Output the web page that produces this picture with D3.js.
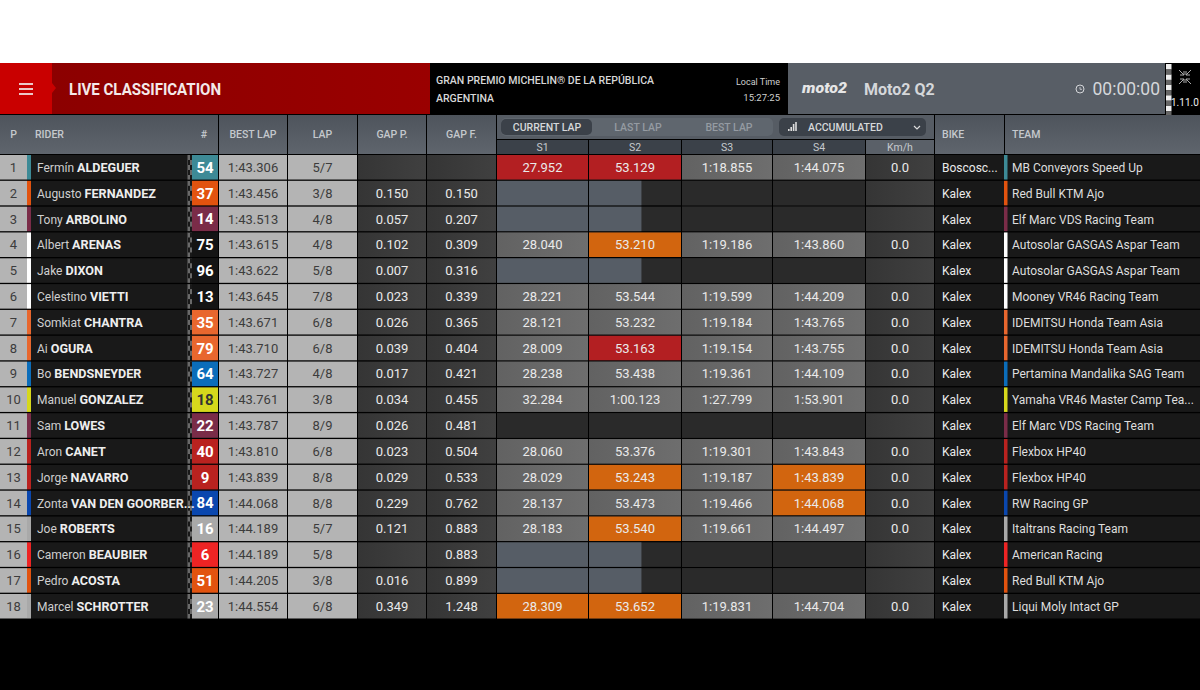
<!DOCTYPE html>
<html>
<head>
<meta charset="utf-8">
<script src="https://cdn.jsdelivr.net/npm/d3@7"></script>
<style>
  html, body { margin: 0; background: #fff; overflow: hidden; }
  svg { display: block; }
  text { font-family: "Roboto", "Noto Sans", sans-serif; }
</style>
</head>
<body>
<div id="chart"></div>
<script>
// table values, one list per column
const positions = d3.range(1, 19);
const firstNames = ['Fermín','Augusto','Tony','Albert','Jake','Celestino','Somkiat','Ai','Bo','Manuel','Sam','Aron','Jorge','Zonta','Joe','Cameron','Pedro','Marcel'];
const lastNames = ['ALDEGUER','FERNANDEZ','ARBOLINO','ARENAS','DIXON','VIETTI','CHANTRA','OGURA','BENDSNEYDER','GONZALEZ','LOWES','CANET','NAVARRO','VAN DEN GOORBER...','ROBERTS','BEAUBIER','ACOSTA','SCHROTTER'];
const numbers = [54,37,14,75,96,13,35,79,64,18,22,40,9,84,16,6,51,23];
const riderColors = ['#3d8a96','#e2530f','#7a2c48','#ffffff','#ffffff','#ffffff','#e8672e','#e8672e','#0b6dba','#d6d81c','#7a2c48','#b9221f','#b9221f','#0a47ae','#a9a9a9','#ee2424','#e2530f','#a9a9a9'];
const numberFills = ['#3d8a96','#e2530f','#7a2c48','#141414','#141414','#141414','#e8672e','#e8672e','#0b6dba','#d6d81c','#7a2c48','#b9221f','#b9221f','#0a47ae','#a9a9a9','#ee2424','#e2530f','#a9a9a9'];
const bestLaps = ['1:43.306','1:43.456','1:43.513','1:43.615','1:43.622','1:43.645','1:43.671','1:43.710','1:43.727','1:43.761','1:43.787','1:43.810','1:43.839','1:44.068','1:44.189','1:44.189','1:44.205','1:44.554'];
const laps = ['5/7','3/8','4/8','4/8','5/8','7/8','6/8','6/8','4/8','3/8','8/9','6/8','8/8','8/8','5/7','5/8','3/8','6/8'];
const gapsP = ['','0.150','0.057','0.102','0.007','0.023','0.026','0.039','0.017','0.034','0.026','0.023','0.029','0.229','0.121','','0.016','0.349'];
const gapsF = ['','0.150','0.207','0.309','0.316','0.339','0.365','0.404','0.421','0.455','0.481','0.504','0.533','0.762','0.883','0.883','0.899','1.248'];
const s1 = ['27.952','','','28.040','','28.221','28.121','28.009','28.238','32.284','','28.060','28.029','28.137','28.183','','','28.309'];
const s2 = ['53.129','','','53.210','','53.544','53.232','53.163','53.438','1:00.123','','53.376','53.243','53.473','53.540','','','53.652'];
const s3 = ['1:18.855','','','1:19.186','','1:19.599','1:19.184','1:19.154','1:19.361','1:27.799','','1:19.301','1:19.187','1:19.466','1:19.661','','','1:19.831'];
const s4 = ['1:44.075','','','1:43.860','','1:44.209','1:43.765','1:43.755','1:44.109','1:53.901','','1:43.843','1:43.839','1:44.068','1:44.497','','','1:44.704'];
const speeds = ['0.0','','','0.0','','0.0','0.0','0.0','0.0','0.0','','0.0','0.0','0.0','0.0','','','0.0'];
const bikes = ['Boscosc...','Kalex','Kalex','Kalex','Kalex','Kalex','Kalex','Kalex','Kalex','Kalex','Kalex','Kalex','Kalex','Kalex','Kalex','Kalex','Kalex','Kalex'];
const teams = ['MB Conveyors Speed Up','Red Bull KTM Ajo','Elf Marc VDS Racing Team','Autosolar GASGAS Aspar Team','Autosolar GASGAS Aspar Team','Mooney VR46 Racing Team','IDEMITSU Honda Team Asia','IDEMITSU Honda Team Asia','Pertamina Mandalika SAG Team','Yamaha VR46 Master Camp Tea...','Elf Marc VDS Racing Team','Flexbox HP40','Flexbox HP40','RW Racing GP','Italtrans Racing Team','American Racing','Red Bull KTM Ajo','Liqui Moly Intact GP'];

// sector status: n = normal, r = fastest, o = personal best, a = in progress, e = empty
const s1Status = ['r','a','a','n','a','n','n','n','n','n','e','n','n','n','n','a','a','o'];
const s2Status = ['r','a','a','o','a','n','n','r','n','n','e','n','o','n','o','a','a','o'];
const s3Status = ['n','e','e','n','e','n','n','n','n','n','e','n','n','n','n','e','e','n'];
const s4Status = ['n','e','e','n','e','n','n','n','n','n','e','n','o','o','n','e','e','n'];
const s1Progress = [1,1,1,1,1,1,1,1,1,1,1,1,1,1,1,1,1,1];
const s2Progress = [1,0.57,0.57,1,0.57,1,1,1,1,1,1,1,1,1,1,0.57,0.57,1];

const headerLabels = ['P','BEST LAP','LAP','GAP P.','GAP F.'];
const sectorLabels = ['S1','S2','S3','S4','Km/h'];
const tabLabels = ['CURRENT LAP','LAST LAP','BEST LAP'];

const width = 1200, height = 690;
const statusFill = { n: 'url(#cellGray)', r: '#b31f22', o: '#d2650f', a: '#565d66', e: '#2a2a2a' };

// column edges, left and right of each block
const colLeft = d3.scaleOrdinal()
  .domain(['P','RIDER','NUM','BEST LAP','LAP','GAP P.','GAP F.','S1','S2','S3','S4','Km/h','BIKE','TEAM'])
  .range([0,27,192,219,288,358,427,497,589,682,773,866,935,1005]);
const colRight = d3.scaleOrdinal()
  .domain(colLeft.domain())
  .range([27,192,218,287,357,426,496,588,681,772,865,934,1004,1200]);
const colMid = k => (colLeft(k) + colRight(k)) / 2;

const rowY = d3.scaleBand()
  .domain(positions)
  .range([155, 618.5])
  .paddingInner(0.05)
  .paddingOuter(0);

const svg = d3.select('#chart').append('svg')
  .attr('width', width).attr('height', height);

const defs = svg.append('defs');
function hGrad(id, a, b) {
  const g = defs.append('linearGradient').attr('id', id);
  g.append('stop').attr('offset', '0').attr('stop-color', a);
  g.append('stop').attr('offset', '1').attr('stop-color', b);
}
hGrad('cellGray', '#626262', '#6e6e6e');
hGrad('cellGap', '#353535', '#404040');
hGrad('redBar', '#8a0000', '#9a0000');
const vg = defs.append('linearGradient').attr('id', 'headGrad').attr('x2', 0).attr('y2', 1);
vg.append('stop').attr('offset', '0').attr('stop-color', '#4e545c');
vg.append('stop').attr('offset', '1').attr('stop-color', '#5f656d');
const chk = defs.append('pattern').attr('id', 'checker').attr('patternUnits', 'userSpaceOnUse')
  .attr('width', 5).attr('height', 10).attr('y', 155);
chk.append('rect').attr('x', 0).attr('y', 0).attr('width', 2.5).attr('height', 5).attr('fill', '#6a6a6a');
chk.append('rect').attr('x', 2.5).attr('y', 5).attr('width', 2.5).attr('height', 5).attr('fill', '#6a6a6a');

// page background
svg.append('rect').attr('x', 0).attr('y', 63).attr('width', width).attr('height', height - 63).attr('fill', '#000');

// top bar
const topBar = svg.append('g');
topBar.append('rect').attr('x', 0).attr('y', 63).attr('width', 430).attr('height', 51).attr('fill', 'url(#redBar)');
topBar.append('path').attr('d', 'M0 63H52V83L56 88L52 93V114H0Z').attr('fill', '#c90000');
topBar.selectAll('.burger').data([84, 89, 94]).join('rect').attr('class', 'burger')
  .attr('x', 19).attr('y', d => d - 0.9).attr('width', 14).attr('height', 1.8).attr('fill', '#f0dede');
topBar.append('text').attr('x', 69).attr('y', 95).attr('fill', '#f4e9e9')
  .attr('font-size', 17).attr('font-weight', 700)
  .attr('textLength', 152).attr('lengthAdjust', 'spacingAndGlyphs').text('LIVE CLASSIFICATION');
topBar.append('text').attr('x', 436).attr('y', 84).attr('fill', '#d8d8d8')
  .attr('font-size', 11.5).attr('font-weight', 500)
  .attr('textLength', 218).attr('lengthAdjust', 'spacingAndGlyphs').text('GRAN PREMIO MICHELIN® DE LA REPÚBLICA');
topBar.append('text').attr('x', 436).attr('y', 102).attr('fill', '#d8d8d8')
  .attr('font-size', 11.5).attr('font-weight', 500)
  .attr('textLength', 58).attr('lengthAdjust', 'spacingAndGlyphs').text('ARGENTINA');
topBar.append('text').attr('x', 780).attr('y', 85).attr('text-anchor', 'end').attr('fill', '#cfcfcf')
  .attr('font-size', 9).text('Local Time');
topBar.append('text').attr('x', 780).attr('y', 101).attr('text-anchor', 'end').attr('fill', '#cfcfcf')
  .attr('font-size', 9.5).text('15:27:25');
topBar.append('rect').attr('x', 788).attr('y', 63).attr('width', 377).attr('height', 51).attr('fill', '#585e66');
topBar.append('text').attr('x', 802).attr('y', 93).attr('fill', '#e6e6e6').attr('font-size', 14)
  .attr('font-weight', 900).attr('font-style', 'italic')
  .attr('textLength', 45).attr('lengthAdjust', 'spacingAndGlyphs').text('moto2');
topBar.append('text').attr('x', 864).attr('y', 95).attr('fill', '#d5d7da').attr('font-size', 16)
  .attr('font-weight', 700).text('Moto2 Q2');
topBar.append('circle').attr('cx', 1080).attr('cy', 89).attr('r', 4).attr('fill', 'none').attr('stroke', '#d5d7da');
topBar.append('path').attr('d', 'M1080 87V89.3H1082').attr('fill', 'none').attr('stroke', '#d5d7da').attr('stroke-width', 0.8);
topBar.append('text').attr('x', 1160).attr('y', 95).attr('text-anchor', 'end').attr('fill', '#d5d7da')
  .attr('font-size', 17.5).text('00:00:00');
topBar.append('rect').attr('x', 1165).attr('y', 63).attr('width', 35).attr('height', 51).attr('fill', '#000');
topBar.selectAll('.flag').data(d3.range(0, 5)).join('rect').attr('class', 'flag')
  .attr('x', 1166).attr('y', d => 64 + d * 10.4).attr('width', 5.5).attr('height', 5.5).attr('fill', '#eee');
topBar.selectAll('.flagb').data(d3.range(0, 5)).join('rect').attr('class', 'flagb')
  .attr('x', 1166).attr('y', d => 69.5 + d * 10.4).attr('width', 5.5).attr('height', 5).attr('fill', '#666');
topBar.append('path')
  .attr('d', 'M1179 70L1184 75M1184 71V75H1180M1191 70L1186 75M1186 71V75H1190M1179 84L1184 79M1184 83V79H1180M1191 84L1186 79M1186 83V79H1190')
  .attr('fill', 'none').attr('stroke', '#aaa').attr('stroke-width', 1);
topBar.append('text').attr('x', 1171).attr('y', 106).attr('fill', '#eee').attr('font-size', 10).text('1.11.0');

// table header
const head = svg.append('g');
const headCells = [['P','P'],['RIDER','NUM'],['BEST LAP','BEST LAP'],['LAP','LAP'],['GAP P.','GAP P.'],['GAP F.','GAP F.'],['BIKE','BIKE'],['TEAM','TEAM']];
head.selectAll('rect.hc').data(headCells).join('rect').attr('class', 'hc')
  .attr('x', d => colLeft(d[0])).attr('y', 115)
  .attr('width', d => colRight(d[1]) - colLeft(d[0])).attr('height', 39)
  .attr('fill', 'url(#headGrad)');
head.append('rect').attr('x', colLeft('S1')).attr('y', 115).attr('width', colRight('Km/h') - colLeft('S1')).attr('height', 24).attr('fill', '#565c64');
head.selectAll('text.hl').data(headerLabels).join('text').attr('class', 'hl')
  .attr('x', colMid).attr('y', 138).attr('text-anchor', 'middle')
  .attr('fill', '#c5c9cd').attr('font-size', 10.5).attr('font-weight', 500).text(d => d);
head.selectAll('text.hl2').data([['RIDER', 35, 'start'], ['#', 204, 'middle'], ['BIKE', 942, 'start'], ['TEAM', 1012, 'start']]).join('text').attr('class', 'hl2')
  .attr('x', d => d[1]).attr('y', 138).attr('text-anchor', d => d[2])
  .attr('fill', '#c5c9cd').attr('font-size', 10.5).attr('font-weight', 500).text(d => d[0]);

head.append('rect').attr('x', 501).attr('y', 118).attr('width', 272).attr('height', 18).attr('rx', 5).attr('fill', '#5f666e');
head.append('rect').attr('x', 501).attr('y', 119).attr('width', 91).attr('height', 16).attr('rx', 5).attr('fill', '#3b4149');
const tabX = d3.scalePoint().domain(tabLabels).range([547, 729]);
head.selectAll('text.tab').data(tabLabels).join('text').attr('class', 'tab')
  .attr('x', d => tabX(d)).attr('y', 131).attr('text-anchor', 'middle')
  .attr('fill', (d, i) => i === 0 ? '#d6d8da' : '#959ba2').attr('font-size', 10.5).attr('font-weight', 500).text(d => d);
head.append('rect').attr('x', 779).attr('y', 118).attr('width', 147).attr('height', 18).attr('rx', 5).attr('fill', '#3b4149');
head.selectAll('rect.sig').data([2, 4, 7, 9]).join('rect').attr('class', 'sig')
  .attr('x', (d, i) => 788 + i * 2.4).attr('y', d => 131 - d).attr('width', 1.6).attr('height', d => d).attr('fill', '#ddd');
head.append('text').attr('x', 808).attr('y', 131).attr('fill', '#d6d8da').attr('font-size', 10.5).attr('font-weight', 500).text('ACCUMULATED');
head.append('path').attr('d', 'M914 126L917 129L920 126').attr('fill', 'none').attr('stroke', '#ddd').attr('stroke-width', 1.2);

head.selectAll('rect.sh').data(sectorLabels).join('rect').attr('class', 'sh')
  .attr('x', d => colLeft(d)).attr('y', 140)
  .attr('width', d => colRight(d) - colLeft(d)).attr('height', 14)
  .attr('fill', d => d === 'Km/h' ? '#5a6068' : '#3b4149');
head.selectAll('text.st').data(sectorLabels).join('text').attr('class', 'st')
  .attr('x', colMid).attr('y', 151).attr('text-anchor', 'middle')
  .attr('fill', '#c5c9cd').attr('font-size', 10.5).text(d => d);

// rows
const rows = svg.append('g').selectAll('g').data(positions).join('g')
  .attr('transform', d => `translate(0,${rowY(d)})`);
const h = rowY.bandwidth();
const rect = (sel, x0, x1, fill) => sel.append('rect').attr('x', x0).attr('y', 0)
  .attr('width', x1 - x0).attr('height', h).attr('fill', fill);

function cellText(key, values, opts = {}) {
  rows.append('text')
    .attr('x', opts.x !== undefined ? opts.x : colMid(key))
    .attr('y', h / 2 + 4.6)
    .attr('text-anchor', opts.anchor || 'middle')
    .attr('fill', opts.fill || '#eaeaea')
    .attr('font-size', opts.size || 13)
    .attr('font-weight', opts.weight || 400)
    .text((d, i) => values[i]);
}

rect(rows, colLeft('P'), colRight('P'), '#b4b4b4');
rect(rows, colRight('P'), colRight('NUM'), '#191919');
rows.append('rect').attr('x', 27).attr('y', 0).attr('width', 4).attr('height', h).attr('fill', (d, i) => riderColors[i]);
rows.append('rect').attr('x', 187).attr('y', 0).attr('width', 5).attr('height', h).attr('fill', 'url(#checker)');
rows.append('rect').attr('x', colLeft('NUM')).attr('y', 0).attr('width', colRight('NUM') - colLeft('NUM')).attr('height', h).attr('fill', (d, i) => numberFills[i]);
['BEST LAP', 'LAP'].forEach(k => rect(rows, colLeft(k), colRight(k), '#b4b4b4'));
['GAP P.', 'GAP F.', 'Km/h'].forEach(k => rect(rows, colLeft(k), colRight(k), 'url(#cellGap)'));

// sector cells, width comes from the progress of the sector
function sectorCells(key, status, progress) {
  const w = d3.scaleLinear().domain([0, 1]).range([0, colRight(key) - colLeft(key)]);
  rect(rows, colLeft(key), colRight(key), '#2a2a2a');
  rows.append('rect').attr('x', colLeft(key)).attr('y', 0).attr('height', h)
    .attr('width', (d, i) => w(progress[i]))
    .attr('fill', (d, i) => statusFill[status[i]]);
}
sectorCells('S1', s1Status, s1Progress);
sectorCells('S2', s2Status, s2Progress);
sectorCells('S3', s3Status, s1Progress);
sectorCells('S4', s4Status, s1Progress);

rect(rows, colLeft('BIKE'), colRight('BIKE'), '#191919');
rect(rows, colLeft('TEAM'), colRight('TEAM'), '#191919');
rows.append('rect').attr('x', 1004).attr('y', 0).attr('width', 3.5).attr('height', h).attr('fill', (d, i) => riderColors[i]);

cellText('P', positions, { fill: '#3c3c3c' });
const riderText = rows.append('text').attr('x', 37).attr('y', h / 2 + 4.6);
riderText.append('tspan').attr('fill', '#cfcfcf').attr('font-size', 12).text((d, i) => firstNames[i] + ' ');
riderText.append('tspan').attr('fill', '#eeeeee').attr('font-size', 12.6).attr('font-weight', 700).text((d, i) => lastNames[i]);
rows.append('text').attr('x', 205).attr('y', h / 2 + 5.5).attr('text-anchor', 'middle')
  .attr('font-size', 15).attr('font-weight', 700)
  .attr('fill', (d, i) => numbers[i] === 18 ? '#333' : '#fff')
  .text((d, i) => numbers[i]);
cellText('BEST LAP', bestLaps, { fill: '#3c3c3c' });
cellText('LAP', laps, { fill: '#3c3c3c' });
cellText('GAP P.', gapsP);
cellText('GAP F.', gapsF);
cellText('S1', s1);
cellText('S2', s2);
cellText('S3', s3);
cellText('S4', s4);
cellText('Km/h', speeds);
cellText('BIKE', bikes, { anchor: 'start', x: 942, size: 12 });
cellText('TEAM', teams, { anchor: 'start', x: 1012, size: 12, fill: '#dedede' });
</script>
</body>
</html>
